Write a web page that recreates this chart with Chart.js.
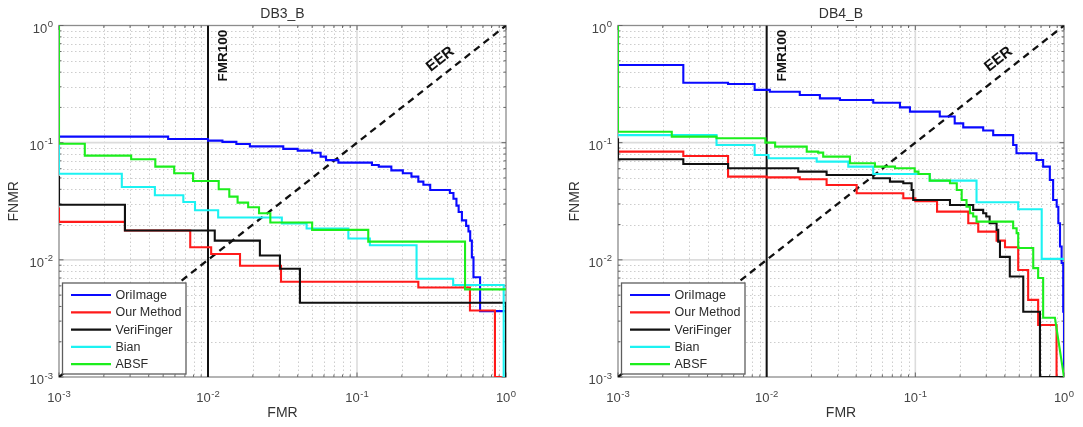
<!DOCTYPE html>
<html><head><meta charset="utf-8">
<script src="https://cdn.jsdelivr.net/npm/chart.js@4.4.1/dist/chart.umd.min.js"></script>
<style>
html,body{margin:0;padding:0;background:#fff;}
#wrap{position:relative;width:1083px;height:427px;overflow:hidden;}
.box{position:absolute;top:0;height:427px;}
#b1{left:0;width:541px;}
#b2{left:541px;width:542px;}
canvas{display:block;}
</style></head><body>
<div id="wrap">
<div class="box" id="b1"><canvas id="c1" width="541" height="427"></canvas></div>
<div class="box" id="b2"><canvas id="c2" width="542" height="427"></canvas></div>
</div>
<script>
const FONT = "'Liberation Sans', Arial, Helvetica, sans-serif";

// ---- labels / ticks ----
const SERIES_NAMES = ['OriImage', 'Our Method', 'VeriFinger', 'Bian', 'ABSF'];
const SERIES_COLORS = ['#0a0aff', '#ff1a1a', '#111111', '#1cf2f2', '#1cee1c'];
const TICK_VALUES = [0.001, 0.01, 0.1, 1];
const TICK_BASE = '10';
const TICK_EXPONENTS = ['-3', '-2', '-1', '0'];
const MINOR_STEPS = [2, 3, 4, 5, 6, 7, 8, 9];
const CHART_TITLES = ['DB3_B', 'DB4_B'];
const X_TITLE = 'FMR';
const Y_TITLE = 'FNMR';

// reference lines
const FMR100_X = [0.01, 0.01];
const FMR100_Y = [0.001, 1];
const EER_LINE = [0.001, 1];
const EER_LABEL_AT = 0.415;

// ---- DB3_B (step points: FMR where the curve drops, new FNMR level) ----
const DB3_ORI_FMR  = [0.001, 0.0054, 0.0100, 0.0125, 0.0155, 0.0191, 0.032, 0.040, 0.050, 0.057, 0.062, 0.075, 0.126, 0.14, 0.17, 0.203, 0.232, 0.258, 0.279, 0.31, 0.42, 0.444, 0.465, 0.481, 0.506, 0.54, 0.56, 0.575, 0.59, 0.605, 0.67, 1.0];
const DB3_ORI_FNMR = [0.1125, 0.1076, 0.104, 0.1015, 0.0975, 0.093, 0.0885, 0.0855, 0.082, 0.076, 0.071, 0.0676, 0.0645, 0.0624, 0.058, 0.0548, 0.0513, 0.0465, 0.0437, 0.0394, 0.0372, 0.0332, 0.029, 0.0256, 0.0217, 0.0195, 0.0175, 0.0146, 0.0105, 0.0071, 0.00365, 0.00365];
const DB3_OUR_FMR  = [0.001, 0.001, 0.00277, 0.0076, 0.0105, 0.0164, 0.0309, 0.258, 0.573, 0.843, 0.935];
const DB3_OUR_FNMR = [0.028, 0.0211, 0.0178, 0.0128, 0.0112, 0.0089, 0.0065, 0.0058, 0.0037, 0.001, 0.001];
const DB3_VF_FMR   = [0.001, 0.001, 0.00277, 0.0111, 0.0223, 0.0304, 0.0414, 1.0];
const DB3_VF_FNMR  = [0.052, 0.0295, 0.0178, 0.0146, 0.0109, 0.0084, 0.0043, 0.001];
const DB3_BIAN_FMR  = [0.001, 0.001, 0.00264, 0.0044, 0.00683, 0.00818, 0.0117, 0.0313, 0.0459, 0.0875, 0.122, 0.251, 0.442, 0.965, 0.985];
const DB3_BIAN_FNMR = [0.102, 0.0543, 0.0418, 0.0356, 0.0312, 0.0265, 0.023, 0.0204, 0.0185, 0.0152, 0.0133, 0.0069, 0.0061, 0.001, 0.001];
const DB3_ABSF_FMR  = [0.001, 0.001, 0.00149, 0.00305, 0.00443, 0.00593, 0.00794, 0.0118, 0.0139, 0.0158, 0.0186, 0.022, 0.0262, 0.05, 0.119, 0.531, 1.0];
const DB3_ABSF_FNMR = [1.0, 0.098, 0.0775, 0.0722, 0.0624, 0.0548, 0.0471, 0.040, 0.0346, 0.0308, 0.0281, 0.025, 0.0208, 0.018, 0.0143, 0.0056, 0.0056];

// ---- DB4_B ----
const DB4_ORI_FMR  = [0.001, 0.00275, 0.0055, 0.0083, 0.0105, 0.0167, 0.0228, 0.0311, 0.0521, 0.0788, 0.092, 0.146, 0.184, 0.21, 0.286, 0.334, 0.455, 0.479, 0.653, 0.724, 0.803, 0.845, 0.893, 0.916, 0.94, 0.964, 0.988, 1.0];
const DB4_ORI_FNMR = [0.46, 0.325, 0.317, 0.282, 0.272, 0.255, 0.239, 0.231, 0.219, 0.2, 0.184, 0.167, 0.146, 0.135, 0.127, 0.116, 0.0955, 0.0812, 0.0711, 0.0624, 0.048, 0.0324, 0.0284, 0.0205, 0.013, 0.0094, 0.0036, 0.001];
const DB4_OUR_FMR  = [0.001, 0.00275, 0.0055, 0.01, 0.0167, 0.0253, 0.0403, 0.083, 0.1, 0.14, 0.227, 0.265, 0.352, 0.401, 0.492, 0.574, 0.67, 0.891, 1.0];
const DB4_OUR_FNMR = [0.0838, 0.077, 0.0513, 0.0506, 0.0487, 0.0435, 0.037, 0.0335, 0.0316, 0.0258, 0.0205, 0.0174, 0.0146, 0.0128, 0.0082, 0.00455, 0.00278, 0.001, 0.001];
const DB4_VF_FMR   = [0.001, 0.001, 0.00275, 0.0055, 0.0163, 0.0253, 0.0521, 0.0675, 0.083, 0.0944, 0.0968, 0.171, 0.245, 0.286, 0.3, 0.316, 0.352, 0.361, 0.371, 0.432, 0.532, 0.689, 1.0];
const DB4_VF_FNMR  = [0.109, 0.0722, 0.0658, 0.0604, 0.0566, 0.053, 0.0497, 0.0465, 0.045, 0.0395, 0.0324, 0.0294, 0.0267, 0.025, 0.0234, 0.0205, 0.018, 0.0143, 0.0106, 0.0072, 0.0036, 0.001, 0.001];
const DB4_BIAN_FMR  = [0.001, 0.0046, 0.0083, 0.0103, 0.0217, 0.0354, 0.0521, 0.125, 0.258, 0.492, 0.708, 1.0];
const DB4_BIAN_FNMR = [0.116, 0.0955, 0.0785, 0.0736, 0.0689, 0.0624, 0.054, 0.0474, 0.031, 0.027, 0.0102, 0.0102];
// ABSF on DB4 ends with a sloped segment, so it is given as a polyline (corner points)
const DB4_ABSF_FMR  = [0.001, 0.001, 0.0023, 0.0023, 0.0046, 0.0046, 0.0098, 0.0098, 0.0114, 0.0114, 0.0186, 0.0186, 0.0222, 0.0222, 0.024, 0.024, 0.0363, 0.0363, 0.0535, 0.0535, 0.073, 0.073, 0.099, 0.099, 0.105, 0.105, 0.125, 0.125, 0.171, 0.171, 0.19, 0.19, 0.205, 0.205, 0.221, 0.221, 0.233, 0.233, 0.245, 0.245, 0.258, 0.258, 0.455, 0.455, 0.48, 0.48, 0.492, 0.492, 0.621, 0.621, 0.67, 0.67, 0.724, 0.724, 0.869, 1.0];
const DB4_ABSF_FNMR = [1.0, 0.124, 0.124, 0.1125, 0.1125, 0.109, 0.109, 0.1, 0.1, 0.0925, 0.0925, 0.0838, 0.0838, 0.0822, 0.0822, 0.076, 0.076, 0.0667, 0.0667, 0.0624, 0.0624, 0.0604, 0.0604, 0.0566, 0.0566, 0.054, 0.054, 0.0474, 0.0474, 0.045, 0.045, 0.0395, 0.0395, 0.0324, 0.0324, 0.0284, 0.0284, 0.025, 0.025, 0.0234, 0.0234, 0.0212, 0.0212, 0.0186, 0.0186, 0.0169, 0.0169, 0.0126, 0.0126, 0.0085, 0.0085, 0.007, 0.007, 0.0032, 0.0032, 0.001];

const DB3_SERIES = [
  {fmr: DB3_ORI_FMR, fnmr: DB3_ORI_FNMR, stepped: 'before'},
  {fmr: DB3_OUR_FMR, fnmr: DB3_OUR_FNMR, stepped: 'before'},
  {fmr: DB3_VF_FMR, fnmr: DB3_VF_FNMR, stepped: 'before'},
  {fmr: DB3_BIAN_FMR, fnmr: DB3_BIAN_FNMR, stepped: 'before'},
  {fmr: DB3_ABSF_FMR, fnmr: DB3_ABSF_FNMR, stepped: 'before'}
];
const DB4_SERIES = [
  {fmr: DB4_ORI_FMR, fnmr: DB4_ORI_FNMR, stepped: 'before'},
  {fmr: DB4_OUR_FMR, fnmr: DB4_OUR_FNMR, stepped: 'before'},
  {fmr: DB4_VF_FMR, fnmr: DB4_VF_FNMR, stepped: 'before'},
  {fmr: DB4_BIAN_FMR, fnmr: DB4_BIAN_FNMR, stepped: 'before'},
  {fmr: DB4_ABSF_FMR, fnmr: DB4_ABSF_FNMR, stepped: false}
];

function drawPowerLabel(ctx, exp, x, baseY, align) {
  ctx.font = '13px ' + FONT;
  const w1 = ctx.measureText(TICK_BASE).width;
  ctx.font = '9.5px ' + FONT;
  const w2 = ctx.measureText(exp).width;
  const w = w1 + w2 + 0.5;
  const x0 = align === 'center' ? x - w / 2 : x - w;
  ctx.textAlign = 'left'; ctx.textBaseline = 'alphabetic';
  ctx.font = '13px ' + FONT;
  ctx.fillText(TICK_BASE, x0, baseY);
  ctx.font = '9.5px ' + FONT;
  ctx.fillText(exp, x0 + w1 + 0.5, baseY - 5.5);
}

const decor = {
  id: 'decor',
  beforeDatasetsDraw(chart) {
    const {ctx, chartArea: ca, scales: {x, y}} = chart;
    ctx.save();
    ctx.beginPath(); ctx.rect(ca.left, ca.top, ca.right - ca.left, ca.bottom - ca.top); ctx.clip();
    // minor dotted grid
    ctx.strokeStyle = '#cdcdcd'; ctx.lineWidth = 1; ctx.setLineDash([1.5, 2.5]);
    for (let d = 0; d < TICK_VALUES.length - 1; d++) {
      for (const k of MINOR_STEPS) {
        const v = TICK_VALUES[d] * k;
        const px = Math.round(x.getPixelForValue(v)) + 0.5;
        const py = Math.round(y.getPixelForValue(v)) + 0.5;
        ctx.beginPath(); ctx.moveTo(px, ca.top); ctx.lineTo(px, ca.bottom); ctx.stroke();
        ctx.beginPath(); ctx.moveTo(ca.left, py); ctx.lineTo(ca.right, py); ctx.stroke();
      }
    }
    // major grid
    ctx.setLineDash([]); ctx.strokeStyle = '#dcdcdc'; ctx.lineWidth = 1.6;
    for (let d = 1; d < TICK_VALUES.length - 1; d++) {
      const v = TICK_VALUES[d];
      const px = x.getPixelForValue(v), py = y.getPixelForValue(v);
      ctx.beginPath(); ctx.moveTo(px, ca.top); ctx.lineTo(px, ca.bottom); ctx.stroke();
      ctx.beginPath(); ctx.moveTo(ca.left, py); ctx.lineTo(ca.right, py); ctx.stroke();
    }
    ctx.restore();
    // frame
    ctx.save();
    ctx.strokeStyle = '#8c8c8c'; ctx.lineWidth = 1.3;
    ctx.strokeRect(ca.left, ca.top, ca.right - ca.left, ca.bottom - ca.top);
    // inward ticks
    ctx.strokeStyle = '#666'; ctx.lineWidth = 1;
    const tick = (v, len) => {
      const px = x.getPixelForValue(v), py = y.getPixelForValue(v);
      ctx.beginPath();
      ctx.moveTo(px, ca.bottom); ctx.lineTo(px, ca.bottom - len);
      ctx.moveTo(px, ca.top); ctx.lineTo(px, ca.top + len);
      ctx.moveTo(ca.left, py); ctx.lineTo(ca.left + len, py);
      ctx.moveTo(ca.right, py); ctx.lineTo(ca.right - len, py);
      ctx.stroke();
    };
    for (let d = 0; d < TICK_VALUES.length - 1; d++) {
      for (const k of MINOR_STEPS) tick(TICK_VALUES[d] * k, 2.5);
    }
    TICK_VALUES.forEach(v => tick(v, 4.5));
    // tick labels with superscript exponents
    ctx.fillStyle = '#454545';
    TICK_VALUES.forEach((v, i) => {
      drawPowerLabel(ctx, TICK_EXPONENTS[i], x.getPixelForValue(v), ca.bottom + 25, 'center');
      drawPowerLabel(ctx, TICK_EXPONENTS[i], ca.left - 6, y.getPixelForValue(v) + 7, 'right');
    });
    ctx.restore();
  },
  afterDatasetsDraw(chart) {
    const {ctx, chartArea: ca, scales: {x, y}} = chart;
    ctx.save();
    ctx.fillStyle = '#111';
    // FMR100 label
    ctx.save();
    ctx.translate(x.getPixelForValue(FMR100_X[0]) + 15.5, ca.top + 30);
    ctx.rotate(-Math.PI / 2);
    ctx.font = 'bold 13.5px ' + FONT;
    ctx.textAlign = 'center'; ctx.textBaseline = 'middle';
    ctx.fillText('FMR100', 0, 0);
    ctx.restore();
    // EER label along the diagonal
    const a = Math.atan2(y.getPixelForValue(EER_LINE[1]) - y.getPixelForValue(EER_LINE[0]),
                         x.getPixelForValue(EER_LINE[1]) - x.getPixelForValue(EER_LINE[0]));
    const dx = Math.cos(a), dy = Math.sin(a);
    const nx = dy, ny = -dx;
    const px = x.getPixelForValue(EER_LABEL_AT) + 14 * nx;
    const py = y.getPixelForValue(EER_LABEL_AT) + 14 * ny;
    ctx.save();
    ctx.translate(px, py); ctx.rotate(a);
    ctx.font = 'bold 15px ' + FONT;
    ctx.textAlign = 'center'; ctx.textBaseline = 'middle';
    ctx.fillText('EER', 0, 0);
    ctx.restore();
    // legend
    const lw = 123.5, lh = 91;
    const lx = ca.left + 3.5, ly = ca.bottom - 3 - lh;
    ctx.fillStyle = '#fff'; ctx.fillRect(lx, ly, lw, lh);
    ctx.strokeStyle = '#5e5e5e'; ctx.lineWidth = 1.3; ctx.strokeRect(lx, ly, lw, lh);
    ctx.font = '12.5px ' + FONT; ctx.textAlign = 'left'; ctx.textBaseline = 'middle';
    SERIES_NAMES.forEach((name, i) => {
      const yy = ly + 12 + i * 17.3;
      ctx.strokeStyle = SERIES_COLORS[i]; ctx.lineWidth = 2.2;
      ctx.beginPath(); ctx.moveTo(lx + 8.5, yy); ctx.lineTo(lx + 48.5, yy); ctx.stroke();
      ctx.fillStyle = '#2b2b2b';
      ctx.fillText(name, lx + 53, yy + 0.5);
    });
    ctx.restore();
  }
};

function makeChart(id, title, series, geom) {
  const datasets = series.map((s, i) => ({
    label: SERIES_NAMES[i],
    data: s.fmr.map((v, j) => ({x: v, y: s.fnmr[j]})),
    borderColor: SERIES_COLORS[i],
    borderWidth: 2.1,
    stepped: s.stepped,
    pointRadius: 0,
    fill: false,
    tension: 0,
    order: 10 - i
  }));
  datasets.push({
    label: 'FMR100',
    data: FMR100_X.map((v, j) => ({x: v, y: FMR100_Y[j]})),
    borderColor: '#111', borderWidth: 2, pointRadius: 0, order: 20
  });
  datasets.push({
    label: 'EER',
    data: EER_LINE.map(v => ({x: v, y: v})),
    borderColor: '#111', borderWidth: 2.3, borderDash: [7, 5], pointRadius: 0, order: 21
  });
  return new Chart(document.getElementById(id), {
    type: 'line',
    data: {datasets},
    plugins: [decor],
    options: {
      responsive: false,
      animation: false,
      events: [],
      layout: {padding: {left: geom.padLeft, right: geom.padRight, top: 0, bottom: 0}},
      plugins: {
        legend: {display: false},
        tooltip: {enabled: false},
        title: {display: true, text: title, fullSize: false, color: '#333',
                font: {family: FONT, size: 14, weight: 'normal'}, padding: {top: 6, bottom: 2.7}}
      },
      scales: {
        x: {
          type: 'logarithmic', position: 'bottom', min: TICK_VALUES[0], max: TICK_VALUES[TICK_VALUES.length - 1],
          afterBuildTicks: s => { s.ticks = TICK_VALUES.map(v => ({value: v})); },
          afterFit: s => { s.height = 50; },
          ticks: {display: false},
          grid: {display: false, drawTicks: false},
          border: {display: false},
          title: {display: true, text: X_TITLE, color: '#333', font: {family: FONT, size: 14}, padding: {top: 0, bottom: 5.6}}
        },
        y: {
          type: 'logarithmic', position: 'left', min: TICK_VALUES[0], max: TICK_VALUES[TICK_VALUES.length - 1],
          afterBuildTicks: s => { s.ticks = TICK_VALUES.map(v => ({value: v})); },
          afterFit: s => { s.width = geom.yWidth; },
          ticks: {display: false},
          grid: {display: false, drawTicks: false},
          border: {display: false},
          title: {display: true, text: Y_TITLE, color: '#333', font: {family: FONT, size: 14}, padding: {top: 5.6, bottom: 0}}
        }
      }
    }
  });
}

makeChart('c1', CHART_TITLES[0], DB3_SERIES, {padLeft: 0, padRight: 35, yWidth: 59});
makeChart('c2', CHART_TITLES[1], DB4_SERIES, {padLeft: 20, padRight: 19, yWidth: 57});
</script>
</body></html>
